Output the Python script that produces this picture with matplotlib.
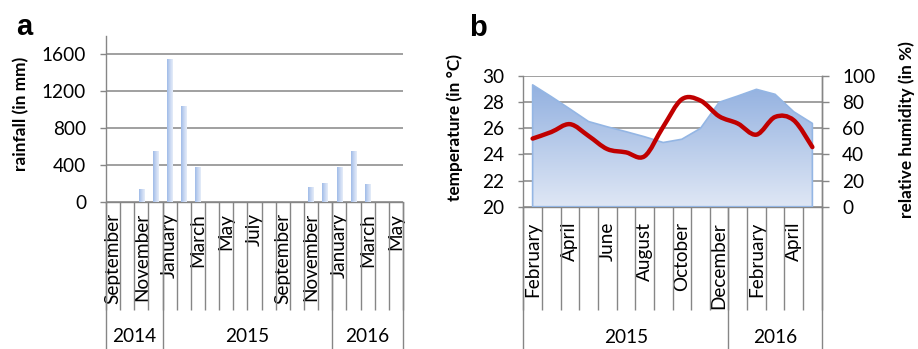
import numpy as np
import matplotlib
matplotlib.use("Agg")
import matplotlib.pyplot as plt
from matplotlib.path import Path
from matplotlib.patches import PathPatch
from matplotlib.transforms import blended_transform_factory
from matplotlib.colors import LinearSegmentedColormap

# ---------------- data ----------------
rain_months = ["September", "October", "November", "December",
               "January", "February", "March", "April", "May", "June", "July",
               "August", "September", "October", "November", "December",
               "January", "February", "March", "April", "May"]
rain_years = ["2014", "2015", "2016"]
rain_year_counts = [4, 12, 5]
rainfall = [0, 0, 138, 553, 1546, 1040, 375, 0, 0, 0, 0, 0, 0, 0,
            157, 200, 382, 556, 190, 0, 0]
rain_ticks = [0, 400, 800, 1200, 1600]

clim_months = ["February", "March", "April", "May", "June", "July", "August",
               "September", "October", "November", "December",
               "January", "February", "March", "April", "May"]
clim_years = ["2015", "2016"]
clim_year_counts = [11, 5]
temperature = [25.2, 25.7, 26.3, 25.4, 24.4, 24.15, 23.85, 26.1, 28.2, 28.1,
               26.9, 26.35, 25.5, 26.85, 26.6, 24.55]
humidity = [93, 84, 74.6, 65, 61, 57.3, 53.4, 49, 51.5, 59.8, 79.7, 84.5,
            89.6, 85.8, 72.5, 63.6]
temp_ticks = [20, 22, 24, 26, 28, 30]
hum_ticks = [0, 20, 40, 60, 80, 100]

# ---------------- style ----------------
GRAY = "#868686"
RED = "#c00000"
FONT = "Lato"
plt.rcParams["font.family"] = [FONT, "DejaVu Sans"]
TICK_FS = 13.7
LAB_FS = 12.4

W, H = 918, 349
fig = plt.figure(figsize=(W / 100, H / 100), dpi=100)


def frac(l, t, r, b):
    return [l / W, 1 - b / H, (r - l) / W, (b - t) / H]


def category_axis(ax, labels, years, counts, n, sep_len_px, year_len_frac,
                  year_y_frac, label_pad):
    ax.set_xlim(-0.5, n - 0.5)
    ax.set_xticks(range(n))
    ax.set_xticklabels([lab if i % 2 == 0 else "" for i, lab in enumerate(labels)],
                       rotation=90, fontsize=TICK_FS, va="top", ha="center")
    ax.set_xticks(np.arange(n + 1) - 0.5, minor=True)
    ax.tick_params(axis="x", which="major", length=0, pad=label_pad)
    ax.tick_params(axis="x", which="minor", length=sep_len_px * 0.72,
                   width=1.0, color=GRAY, direction="out")
    tr = blended_transform_factory(ax.transData, ax.transAxes)
    edges = np.concatenate([[0], np.cumsum(counts)]) - 0.5
    for e in edges:
        ax.plot([e, e], [0, year_len_frac], transform=tr, color=GRAY,
                lw=1.0, clip_on=False, solid_capstyle="butt")
    for k, y in enumerate(years):
        ax.text((edges[k] + edges[k + 1]) / 2, year_y_frac, y, transform=tr,
                ha="center", va="center", fontsize=TICK_FS)


def vlabel(x, y, s):
    fig.text(x / W, 1 - y / H, s, rotation=90, ha="center", va="center",
             fontsize=LAB_FS, fontweight="bold")


# ---------------- panel a ----------------
axa = fig.add_axes(frac(106, 36, 403, 201.7))
n_a = len(rainfall)
xa = np.arange(n_a)
bars = axa.bar(xa, rainfall, width=0.4, color="none", edgecolor="none", zorder=3)
grad_h = np.linspace(0, 1, 64).reshape(1, -1)
bar_cmap = LinearSegmentedColormap.from_list("barg", ["#9fbbe8", "#c6d6f1", "#e6edf9"])
for b, v in zip(bars, rainfall):
    if v <= 0:
        continue
    x0, w_ = b.get_x(), b.get_width()
    im = axa.imshow(grad_h, extent=[x0, x0 + w_, 0, v], cmap=bar_cmap,
                    aspect="auto", zorder=3, interpolation="bilinear")
    im.set_clip_path(b)
axa.set_aspect("auto")
axa.set_xlim(-0.5, n_a - 0.5)
axa.set_ylim(0, 1800)
axa.set_yticks(rain_ticks)
axa.set_yticklabels([str(t) for t in rain_ticks], fontsize=TICK_FS)
axa.yaxis.grid(True, color=GRAY, lw=1.1)
axa.set_axisbelow(True)
axa.tick_params(axis="y", length=6 * 0.72, width=1.0, color=GRAY, pad=10)
for s in ["top", "right"]:
    axa.spines[s].set_visible(False)
for s in ["left", "bottom"]:
    axa.spines[s].set_color(GRAY)
    axa.spines[s].set_linewidth(1.0)
category_axis(axa, rain_months, rain_years, rain_year_counts, n_a,
              sep_len_px=108, year_len_frac=-0.9, year_y_frac=-0.8165,
              label_pad=8)
vlabel(21, 114, "rainfall (in mm)")
fig.text(16 / W, 1 - 35 / H, "a", fontsize=21, fontweight="bold",
         family="Liberation Sans", va="baseline", ha="left")

# ---------------- panel b ----------------
axb = fig.add_axes(frac(523.3, 75.7, 821.7, 206.7))
n_b = len(temperature)
xb = np.arange(n_b)
axb.set_ylim(20, 30)
axb.set_yticks(temp_ticks)
axb.set_yticklabels([str(t) for t in temp_ticks], fontsize=TICK_FS)
axb.yaxis.grid(True, color=GRAY, lw=1.1)
axb.tick_params(axis="y", length=5 * 0.72, width=1.0, color=GRAY, pad=10)
axb.spines["top"].set_visible(False)
for s in ["left", "right", "bottom"]:
    axb.spines[s].set_color(GRAY)
    axb.spines[s].set_linewidth(1.0)
category_axis(axb, clim_months, clim_years, clim_year_counts, n_b,
              sep_len_px=103, year_len_frac=-1.1, year_y_frac=-0.995,
              label_pad=11)
vlabel(455, 128, "temperature (in °C)")

ax2 = axb.twinx()
ax2.set_ylim(0, 100)
ax2.set_yticks(hum_ticks)
ax2.set_yticklabels([str(t) for t in hum_ticks], fontsize=TICK_FS)
ax2.tick_params(axis="y", length=6.5 * 0.72, width=1.0, color=GRAY, pad=10)
for s in ["top", "left", "bottom"]:
    ax2.spines[s].set_visible(False)
ax2.spines["right"].set_color(GRAY)
ax2.spines["right"].set_linewidth(1.0)

area = ax2.fill_between(xb, 0, humidity, facecolor="none",
                        edgecolor="#94b6e4", lw=1.2, zorder=2)
grad_v = np.linspace(1, 0, 128).reshape(-1, 1)
area_cmap = LinearSegmentedColormap.from_list("areag", ["#dfe7f5", "#93b1e0"])
imv = ax2.imshow(grad_v, extent=[xb[0], xb[-1], 0, max(humidity)], cmap=area_cmap,
                 aspect="auto", zorder=1, interpolation="bilinear",
                 vmin=0, vmax=1)
ax2.set_aspect("auto")
ax2.set_xlim(-0.5, n_b - 0.5)
ax2.set_ylim(0, 100)
imv.set_clip_path(area.get_paths()[0], ax2.transData)

# smoothed temperature line (cubic Bezier through the points, Excel-style)
pts = np.column_stack([xb, temperature]).astype(float)
verts = [pts[0]]
codes = [Path.MOVETO]
for i in range(len(pts) - 1):
    p0 = pts[i - 1] if i > 0 else pts[i]
    p1, p2 = pts[i], pts[i + 1]
    p3 = pts[i + 2] if i + 2 < len(pts) else pts[i + 1]
    c1 = p1 + (p2 - p0) / 6.0
    c2 = p2 - (p3 - p1) / 6.0
    verts += [c1, c2, p2]
    codes += [Path.CURVE4] * 3
line = PathPatch(Path(verts, codes), transform=axb.transData, facecolor="none",
                 edgecolor=RED, lw=3.2, zorder=5, capstyle="round",
                 joinstyle="round")
ax2.add_patch(line)

vlabel(907, 130, "relative humidity (in %)")
fig.text(469 / W, 1 - 36 / H, "b", fontsize=21, fontweight="bold",
         family="Liberation Sans", va="baseline", ha="left")

fig.savefig("out.png", dpi=100)
